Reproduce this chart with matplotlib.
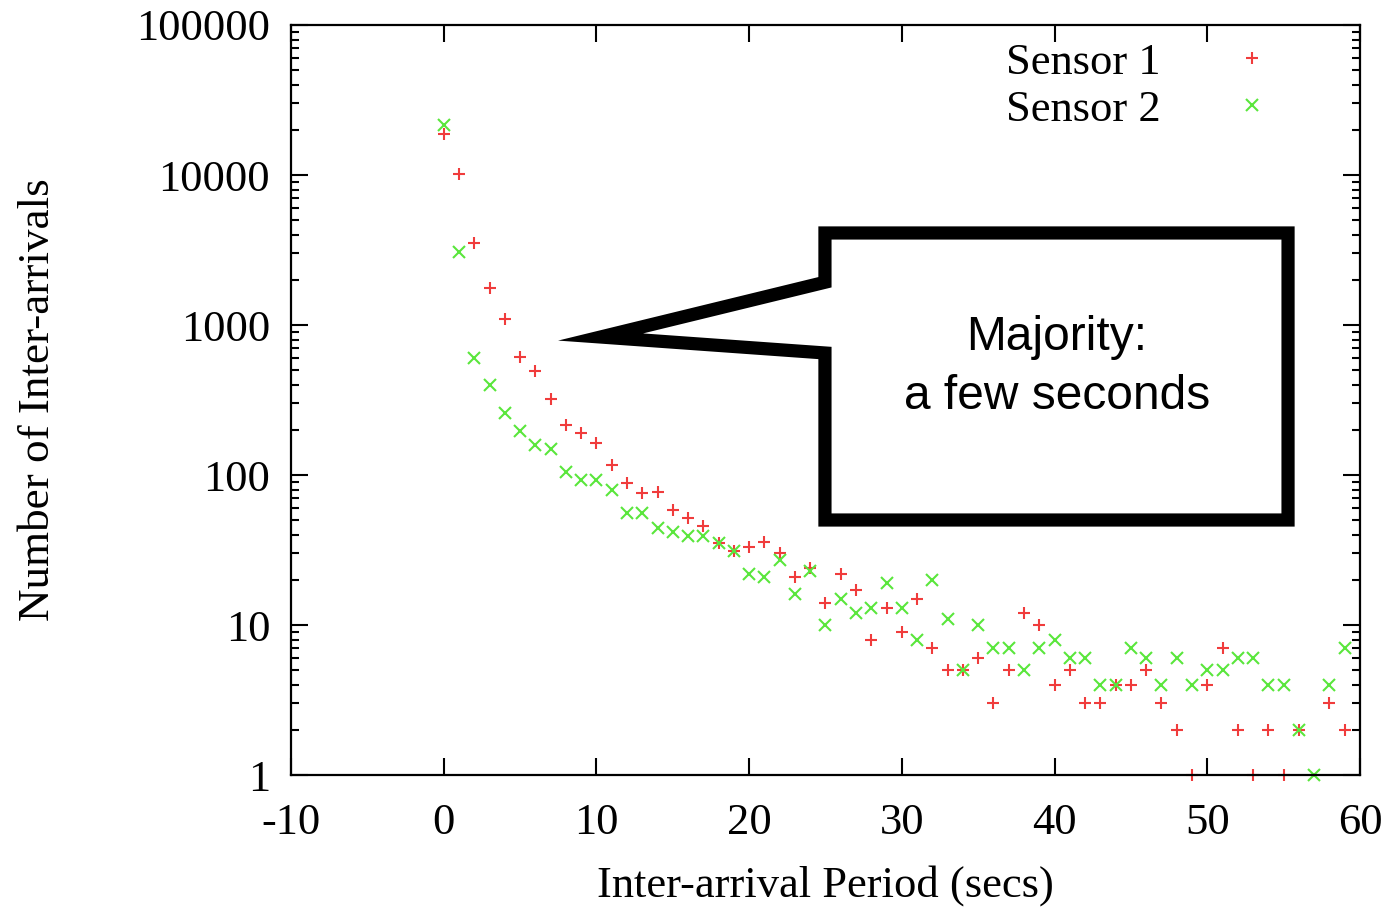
import numpy as np
import matplotlib
matplotlib.use("Agg")
import matplotlib.pyplot as plt
from matplotlib.patches import Polygon
from matplotlib.ticker import FixedLocator, LogLocator, NullFormatter

# inter-arrival period (secs) and counts
sensor1_x = list(range(0, 57)) + [58, 59]
sensor1_y = [18700, 10100, 3500, 1770, 1100, 615, 495, 320, 215, 190,
             164, 117, 89, 76, 77, 58, 52, 46, 35, 31,
             33, 36, 30, 21, 24, 14, 22, 17, 8, 13,
             9, 15, 7, 5, 5, 6, 3, 5, 12, 10,
             4, 5, 3, 3, 4, 4, 5, 3, 2, 1,
             4, 7, 2, 1, 2, 1, 2, 3, 2]

sensor2_x = list(range(0, 60))
sensor2_y = [21500, 3080, 600, 400, 260, 196, 158, 148, 105, 92,
             92, 79, 56, 56, 44, 42, 39, 39, 35, 31,
             22, 21, 27, 16, 23, 10, 15, 12, 13, 19,
             13, 8, 20, 11, 5, 10, 7, 7, 5, 7,
             8, 6, 6, 4, 4, 7, 6, 4, 6, 4,
             5, 5, 6, 6, 4, 4, 2, 1, 4, 7]

x_ticks = [-10, 0, 10, 20, 30, 40, 50, 60]
y_ticks = [1, 10, 100, 1000, 10000, 100000]
y_ticklabels = ["1", "10", "100", "1000", "10000", "100000"]

serif = "Liberation Serif"

fig = plt.figure(figsize=(13.91, 9.09), dpi=100)
ax = fig.add_axes([0.2092, 0.1474, 0.9777 - 0.2092, 0.9725 - 0.1474])

ax.plot(sensor1_x, sensor1_y, linestyle="none", marker="+", color="#f03c3c",
        markersize=9, markeredgewidth=1.5, label="Sensor 1", clip_on=False)
ax.plot(sensor2_x, sensor2_y, linestyle="none", marker="x", color="#5ae63c",
        markersize=8, markeredgewidth=1.5, label="Sensor 2", clip_on=False)

ax.set_yscale("log")
ax.set_xlim(-10, 60)
ax.set_ylim(1, 100000)

ax.xaxis.set_major_locator(FixedLocator(x_ticks))
ax.set_xticklabels([str(t) for t in x_ticks])
ax.yaxis.set_major_locator(FixedLocator(y_ticks))
ax.set_yticklabels(y_ticklabels)
ax.yaxis.set_minor_locator(LogLocator(base=10, subs=np.arange(2, 10)))
ax.yaxis.set_minor_formatter(NullFormatter())

ax.tick_params(which="both", direction="in", top=True, right=True, width=1.5)
ax.tick_params(which="major", length=12, labelsize=32)
ax.tick_params(axis="x", which="major", pad=20)
ax.tick_params(axis="y", which="major", pad=15)
ax.tick_params(which="minor", length=6)
for lab in ax.get_xticklabels() + ax.get_yticklabels():
    lab.set_fontfamily(serif)
for s in ax.spines.values():
    s.set_linewidth(1.6)

ax.set_xlabel("Inter-arrival Period (secs)", fontsize=32, fontfamily=serif, labelpad=16)
ax.set_ylabel("Number of Inter-arrivals", fontsize=32.5, fontfamily=serif, labelpad=56)

leg = ax.legend(loc="upper right", bbox_to_anchor=(0.955, 1.012), frameon=False,
                markerfirst=False, prop={"family": serif, "size": 32},
                handlelength=1.5, handletextpad=1.3, labelspacing=0.15,
                borderaxespad=0.2)

# callout balloon
callout = Polygon([(0.4995, 0.7227), (0.9327, 0.7227), (0.9327, 0.34),
                   (0.4995, 0.34), (0.4995, 0.5627), (0.2896, 0.584),
                   (0.4995, 0.657)],
                  closed=True, transform=ax.transAxes, fill=False,
                  edgecolor="black", linewidth=9.5, joinstyle="miter", zorder=5)
ax.add_patch(callout)
ax.text(0.7166, 0.544, "Majority:\na few seconds", transform=ax.transAxes,
        ha="center", va="center", fontsize=34.5, fontfamily="Liberation Sans",
        linespacing=1.4, zorder=6)

fig.savefig("out.png", dpi=100)
